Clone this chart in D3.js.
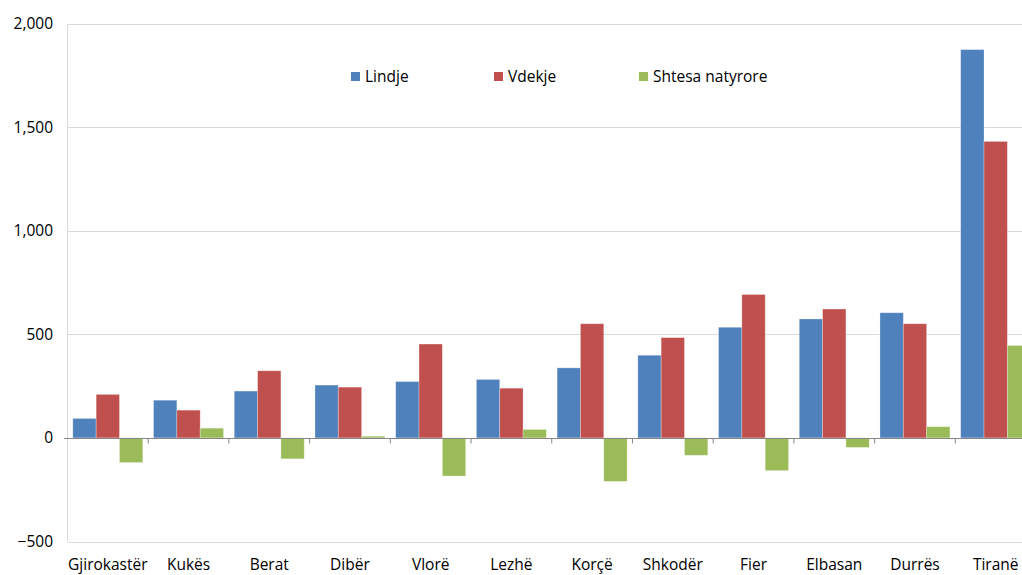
<!DOCTYPE html>
<html lang="sq">
<head>
<meta charset="UTF-8" />
<title>Lindje, vdekje, shtesa natyrore</title>
<script src="https://d3js.org/d3.v7.min.js"></script>
<style>
  body { margin: 0; background: #fff; }
  text { font-family: "Open Sans", "Noto Sans", sans-serif; fill: #000; }
</style>
</head>
<body>
<script>
// te dhenat
var qarqet = ["Gjirokastër", "Kukës", "Berat", "Dibër", "Vlorë", "Lezhë", "Korçë", "Shkodër", "Fier", "Elbasan", "Durrës", "Tiranë"];
var lindje = [94, 182, 226, 255, 272, 282, 338, 399, 534, 574, 604, 1874];
var vdekje = [210, 134, 324, 245, 453, 240, 551, 484, 692, 622, 551, 1431];
var shtesa = [-119, 47, -101, 8, -184, 41, -210, -84, -158, -46, 54, 446];
var seriet = ["Lindje", "Vdekje", "Shtesa natyrore"];
var ngjyrat = ["#4f81bd", "#c0504d", "#9bbb59"];
var yTicks = [-500, 0, 500, 1000, 1500, 2000];

var w = 1022, h = 575;
var svg = d3.select("body").append("svg")
    .attr("width", w)
    .attr("height", h);

var vlerat = [lindje, vdekje, shtesa];

var x0 = d3.scaleBand()
    .domain(qarqet)
    .range([67.5, 1036])
    .paddingInner(0.133)
    .paddingOuter(0.066);

var x1 = d3.scaleBand()
    .domain(d3.range(3))
    .range([0, x0.bandwidth()]);

var y = d3.scaleLinear()
    .domain([-500, 2000])
    .range([541.5, 23.5]);

// vijat e rrjetit
svg.append("g").selectAll("line")
    .data(yTicks.filter(function(d) { return d != 0; }))
    .enter().append("line")
    .attr("x1", 67.5).attr("x2", w)
    .attr("y1", function(d) { return Math.round(y(d)) + 0.5; })
    .attr("y2", function(d) { return Math.round(y(d)) + 0.5; })
    .attr("stroke", "#d9d9d9")
    .attr("stroke-width", 1);

// etiketat e boshtit y
svg.append("g").selectAll("text")
    .data(yTicks)
    .enter().append("text")
    .attr("x", 53)
    .attr("y", function(d) { return y(d); })
    .attr("dy", "0.35em")
    .attr("text-anchor", "end")
    .style("font-size", "15.5px")
    .text(function(d) { return d3.format(",")(d); });

// shtyllat
var grupet = svg.append("g").selectAll("g")
    .data(qarqet)
    .enter().append("g")
    .attr("transform", function(d) { return "translate(" + x0(d) + ",0)"; });

grupet.selectAll("rect")
    .data(function(d, i) { return vlerat.map(function(s, k) { return { k: k, v: s[i] }; }); })
    .enter().append("rect")
    .attr("x", function(d) { return x1(d.k); })
    .attr("width", x1.bandwidth())
    .attr("y", function(d) { return y(Math.max(0, d.v)); })
    .attr("height", function(d) { return Math.abs(y(d.v) - y(0)); })
    .attr("fill", function(d) { return ngjyrat[d.k]; })
    .attr("stroke", "#fff")
    .attr("stroke-opacity", 0.35)
    .attr("stroke-width", 0.8);

// boshti y dhe boshti 0
var y0 = Math.round(y(0)) + 0.5;
svg.append("line")
    .attr("x1", 67.5).attr("x2", 67.5)
    .attr("y1", y(2000)).attr("y2", y(-500))
    .attr("stroke", "#d9d9d9");
svg.append("line")
    .attr("x1", 64).attr("x2", w)
    .attr("y1", y0).attr("y2", y0)
    .attr("stroke", "#868686")
    .attr("stroke-width", 1.2);

// vijat ndarese te kategorive
svg.append("g").selectAll("line")
    .data(qarqet.slice(1))
    .enter().append("line")
    .attr("x1", function(d) { return x0(d) - x0.step() * x0.paddingInner() / 2; })
    .attr("x2", function(d) { return x0(d) - x0.step() * x0.paddingInner() / 2; })
    .attr("y1", y0).attr("y2", y0 + 5)
    .attr("stroke", "#868686");

// etiketat e kategorive
svg.append("g").selectAll("text")
    .data(qarqet)
    .enter().append("text")
    .attr("x", function(d) { return x0(d) + x0.bandwidth() / 2; })
    .attr("y", 570)
    .attr("text-anchor", "middle")
    .style("font-size", "15.5px")
    .text(function(d) { return d; });

// legjenda
var legX = [351, 494, 639];
var leg = svg.append("g").selectAll("g")
    .data(seriet)
    .enter().append("g")
    .attr("transform", function(d, i) { return "translate(" + legX[i] + ",72)"; });
leg.append("rect")
    .attr("width", 9).attr("height", 9)
    .attr("fill", function(d, i) { return ngjyrat[i]; });
leg.append("text")
    .attr("x", 14)
    .attr("y", 10)
    .style("font-size", "15.5px")
    .text(function(d) { return d; });
</script>
</body>
</html>
